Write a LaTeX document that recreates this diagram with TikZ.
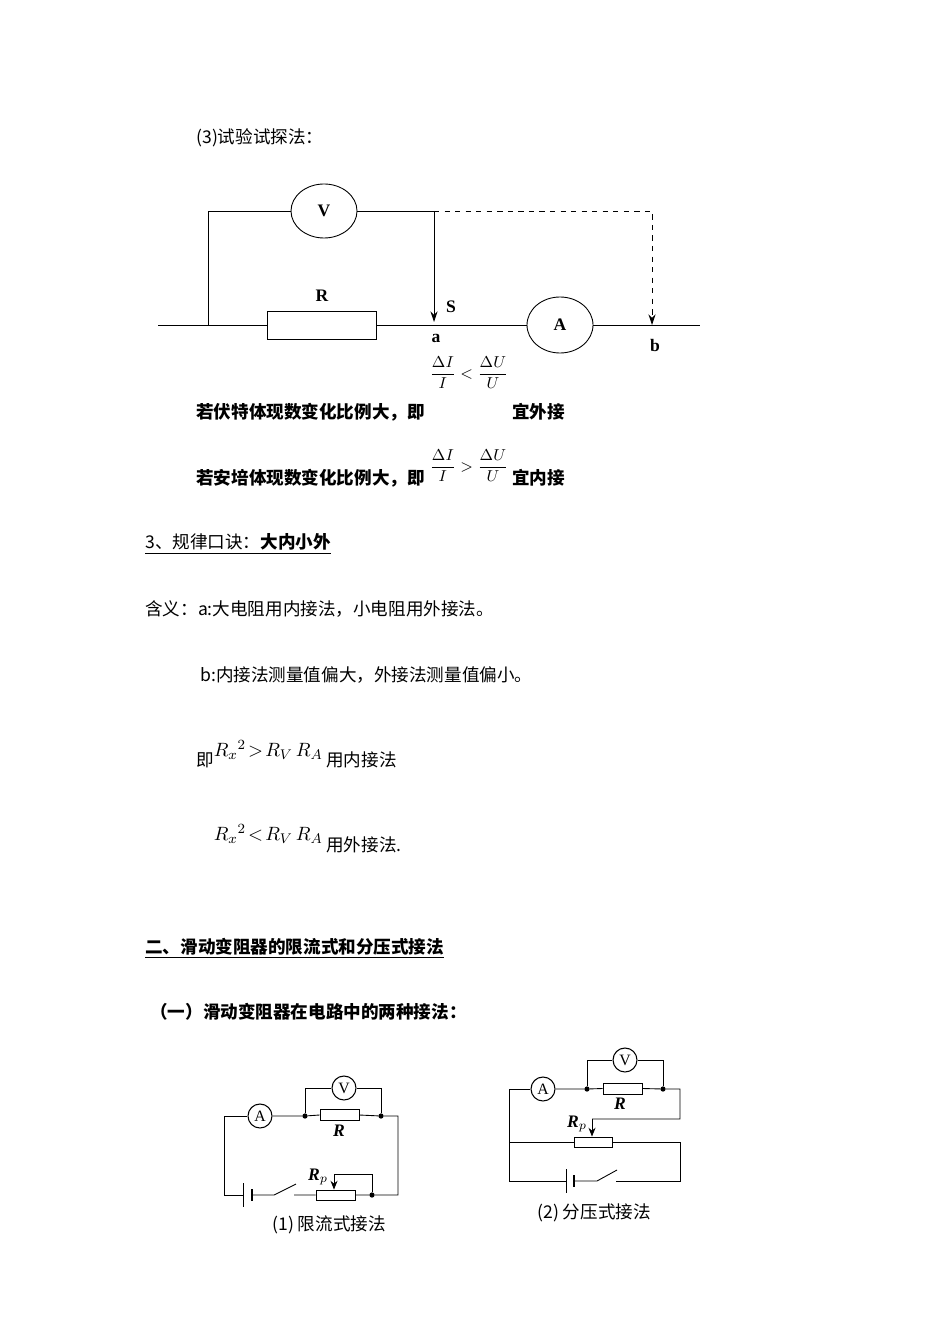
\documentclass[tikz,border=0pt]{standalone}
\usepackage{fontspec}
\setmainfont{DejaVu Sans}
\newfontfamily\cjk{Noto Sans CJK SC}
\newcommand\cjkb{\cjk\bfseries}
\newfontfamily\serifb{Liberation Serif}
\usetikzlibrary{arrows.meta,shapes.geometric}
\begin{document}
\begin{tikzpicture}[x=0.02cm,y=-0.02cm,
  txt/.style={anchor=west,inner sep=0,font=\cjk\fontsize{10pt}{12pt}\selectfont},
  btxt/.style={anchor=west,inner sep=0,font=\cjkb\fontsize{10pt}{12pt}\selectfont},
  w/.style={line width=0.5pt},
  lab/.style={inner sep=0,font=\serifb\bfseries\fontsize{10pt}{12pt}\selectfont},
  res/.style={draw,line width=0.5pt},
  dot/.style={circle,fill,inner sep=0,minimum size=3pt}]
\useasboundingbox (0,0) rectangle (950,1344);
% header
\node[txt] (h) at (196,138) {(3)试验试探法：};
% top circuit
\node[draw,ellipse,minimum width=66*0.02cm,minimum height=54*0.02cm,line width=0.5pt] (V) at (324,211) {\serifb\bfseries V};
\node[draw,ellipse,minimum width=66*0.02cm,minimum height=56*0.02cm,line width=0.5pt] (A) at (560,325) {\serifb\bfseries A};
\node[res,minimum width=109*0.02cm,minimum height=28*0.02cm,inner sep=0] (R) at (321.5,325) {};
\coordinate (L) at (158,325); \coordinate (Rend) at (700,325);
\coordinate (tl) at (208,211); \coordinate (bl) at (208,325);
\coordinate (tr) at (434,211); \coordinate (sa) at (434,322);
\coordinate (dtr) at (652,211); \coordinate (db) at (652,325);
\draw[w] (L) -- (R.west) (R.east) -- (A.west) (A.east) -- (Rend);
\draw[w] (bl) -- (tl) -- (V.west) (V.east) -- (tr);
\draw[w,-{Stealth[length=6pt,width=4pt]}] (tr) -- (sa);
\draw[w,dashed,-{Stealth[length=6pt,width=4pt]}] (tr) -- (dtr) -- (db);
\node[lab] (Rl) at (322,296) {R};
\node[lab] (S) at (451,307) {S};
\node[lab] (a) at (436,338) {a};
\node[lab] (b) at (655,345) {b};
% fractions
\node[inner sep=0] (f1) at (469,373) {\fontsize{9.5pt}{12pt}\selectfont$\displaystyle\frac{\Delta I}{I}<\frac{\Delta U}{U}$};
\node[btxt] (t1) at (196,412) {若伏特体现数变化比例大，即};
\node[btxt] (t1b) at (512,412) {宜外接};
\node[inner sep=0] (f2) at (469,466) {\fontsize{9.5pt}{12pt}\selectfont$\displaystyle\frac{\Delta I}{I}>\frac{\Delta U}{U}$};
\node[btxt] (t2) at (196,478) {若安培体现数变化比例大，即};
\node[btxt] (t2b) at (512,478) {宜内接};
\node[txt] (g) at (145,544) {\underline{3、规律口诀：{\cjkb 大内小外}}};
\node[txt] (h1) at (145,609) {含义：a:大电阻用内接法，小电阻用外接法。};
\node[txt] (h2) at (200,675) {b:内接法测量值偏大，外接法测量值偏小。};
\node[txt] (j1) at (196,760) {即};
\node[inner sep=0,anchor=east] (e1) at (323,750) {\fontsize{11pt}{13pt}\selectfont$R_x{}^2\!>\!R_V\,R_A$};
\node[txt] (j1b) at (326,760) {用内接法};
\node[inner sep=0,anchor=east] (e2) at (323,834) {\fontsize{11pt}{13pt}\selectfont$R_x{}^2\!<\!R_V\,R_A$};
\node[txt] (j2b) at (326,845) {用外接法.};
\node[btxt] (s2) at (145,948) {\underline{二、滑动变阻器的限流式和分压式接法}};
\node[btxt] (s3) at (150,1012) {（一）滑动变阻器在电路中的两种接法：};
% circuit 1
\tikzset{sm/.style={draw,circle,minimum size=0.48cm,inner sep=0,line width=0.6pt,font=\serifb\fontsize{9pt}{10pt}\selectfont}}
\node[sm] (A1) at (260,1116) {A};
\node[sm] (V1) at (344,1088) {V};
\node[res,minimum width=0.78cm,minimum height=0.22cm,inner sep=0] (R1) at (339.5,1115) {};
\node[res,minimum width=0.78cm,minimum height=0.2cm,inner sep=0] (P1) at (335.5,1195) {};
\node[dot] (j11) at (305,1116) {}; \node[dot] (j12) at (381,1116) {}; \node[dot] (j13) at (372,1195) {};
\coordinate (c1a) at (224,1116); \coordinate (c1b) at (224,1195); \coordinate (c1c) at (398,1116); \coordinate (c1d) at (398,1195);
\coordinate (bat1) at (243,1195); \coordinate (bat2) at (252,1195);
\coordinate (sw1) at (274,1195); \coordinate (sw2) at (296,1184); \coordinate (sw3) at (294,1195);
\coordinate (s1) at (334,1174); \coordinate (s2) at (372,1174);
\draw[w] (A1.east) -- (j11) -- (R1.west) (R1.east) -- (j12) -- (c1c) -- (c1d) -- (j13) -- (P1.east);
\draw[w] (j11) |- (V1.west) (V1.east) -| (j12);
\draw[w] (A1.west) -- (c1a) -- (c1b) -- (bat1);
\draw[w] (243,1183) -- (243,1207);
\draw[line width=1.6pt] (252,1189) -- (252,1201);
\draw[w] (bat2) -- (sw1) -- (sw2) (sw3) -- (P1.west);
\draw[w] (j13) -- (s2) -- (s1);
\draw[w,-{Stealth[length=5pt,width=4pt]}] (s1) -- (P1.north -| s1);
\node[font=\serifb\bfseries\itshape\fontsize{10pt}{12pt}\selectfont,inner sep=0] (Rl1) at (339,1131) {R};
\node[font=\serifb\bfseries\itshape\fontsize{10pt}{12pt}\selectfont,inner sep=0] (Pl1) at (318,1177) {R$_p$};
\node[txt] (c1t) at (272,1225) {(1) 限流式接法};
% circuit 2
\node[sm] (A2) at (543,1089) {A};
\node[sm] (V2) at (625,1060) {V};
\node[res,minimum width=0.78cm,minimum height=0.22cm,inner sep=0] (R2) at (622.5,1088.5) {};
\node[res,minimum width=0.76cm,minimum height=0.2cm,inner sep=0] (P2) at (593,1142) {};
\node[dot] (j21) at (587,1089) {}; \node[dot] (j22) at (663,1089) {};
\coordinate (c2a) at (509,1089); \coordinate (c2b) at (509,1181); \coordinate (c2m) at (509,1142);
\coordinate (c2c) at (680,1089); \coordinate (c2d) at (680,1119); \coordinate (c2e) at (680,1142); \coordinate (c2f) at (680,1181);
\coordinate (s3) at (592,1119);
\draw[w] (A2.east) -- (j21) -- (R2.west) (R2.east) -- (j22) -- (c2c) -- (c2d) -- (s3);
\draw[w,-{Stealth[length=5pt,width=4pt]}] (s3) -- (P2.north -| s3);
\draw[w] (j21) |- (V2.west) (V2.east) -| (j22);
\draw[w] (A2.west) -- (c2a) -- (c2b) -- (566,1181);
\draw[w] (c2m) -- (P2.west) (P2.east) -- (c2e) -- (c2f) -- (616,1181);
\draw[w] (566,1169) -- (566,1193);
\draw[line width=1.6pt] (574,1175) -- (574,1187);
\draw[w] (574,1181) -- (597,1181) -- (617,1170);
\node[font=\serifb\bfseries\itshape\fontsize{10pt}{12pt}\selectfont,inner sep=0] (Rl2) at (620,1104) {R};
\node[font=\serifb\bfseries\itshape\fontsize{10pt}{12pt}\selectfont,inner sep=0] (Pl2) at (577,1124) {R$_p$};
\node[txt] (c2t) at (537,1213) {(2) 分压式接法};
\end{tikzpicture}
\end{document}
